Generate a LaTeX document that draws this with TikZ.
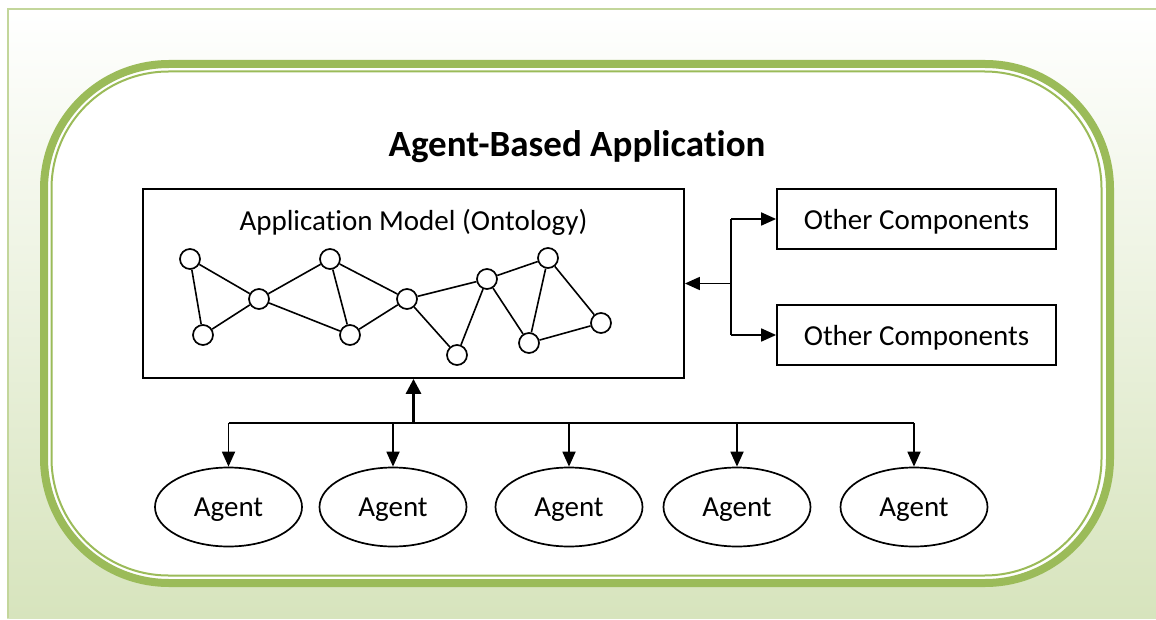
\documentclass[tikz,border=0pt]{standalone}
\usepackage{fontspec}
\setmainfont{Carlito}[Ligatures=NoCommon]
\usetikzlibrary{arrows.meta,shapes.geometric}
\definecolor{frameborder}{HTML}{C3D69B}
\definecolor{framebot}{HTML}{D7E4BD}
\definecolor{ringgreen}{HTML}{9BBB59}
\begin{document}
\begin{tikzpicture}[x=1pt,y=-1pt,
  txt/.style={font=\fontsize{29}{34}\selectfont},
  box/.style={draw, line width=1.8pt, fill=white, minimum width=279pt, minimum height=60pt, inner sep=0pt, text depth=0pt, txt},
  onode/.style={circle, draw, line width=1.7pt, fill=white, minimum size=20pt, inner sep=0pt},
  oedge/.style={line width=1.6pt},
  agent/.style={ellipse, draw, line width=1.7pt, fill=white, minimum width=147pt, minimum height=79pt, inner sep=0pt, text depth=0pt, txt},
  conn/.style={line width=1.8pt},
  arr/.style={conn, -{Triangle[length=15pt,width=13pt]}},
  ]
\useasboundingbox (0,0) rectangle (1156,620);
% background frame
\fill[top color=white, bottom color=framebot] (7,9) rectangle (1156,618);
\draw[frameborder, line width=2pt] (7.5,618) -- (7.5,9.5) -- (1156,9.5);
% rounded ring
\draw[ringgreen, line width=8pt, fill=white, rounded corners=125pt] (44,64) rectangle (1110,583);
\draw[ringgreen, line width=2pt, rounded corners=117pt] (51.5,71.5) rectangle (1101.5,575.5);
% title
\node[anchor=base, inner sep=0pt, font=\fontsize{37}{43}\selectfont\bfseries] (title) at (577,157) {Agent-Based Application};
% model box
\node[draw, line width=1.8pt, fill=white, minimum width=541pt, minimum height=189pt, inner sep=0pt] (model) at (413.5,283.5) {};
\node[anchor=base, inner sep=0pt, txt] (modellabel) at (413.5,231) {Application Model (Ontology)};
% ontology graph
\node[onode] (n1) at (190,259) {};
\node[onode] (n2) at (203,335) {};
\node[onode] (n3) at (259,299) {};
\node[onode] (n4) at (330,259) {};
\node[onode] (n5) at (350,335) {};
\node[onode] (n6) at (407,299) {};
\node[onode] (n7) at (457,355) {};
\node[onode] (n8) at (487,279) {};
\node[onode] (n9) at (548,258) {};
\node[onode] (n10) at (529,343) {};
\node[onode] (n11) at (601,323) {};
\foreach \a/\b in {n1/n2,n1/n3,n2/n3,n3/n4,n3/n5,n4/n5,n4/n6,n5/n6,n6/n8,n6/n7,n7/n8,n8/n9,n8/n10,n9/n10,n9/n11,n10/n11}
  \draw[oedge] (\a) -- (\b);
% other components
\node[box] (oc1) at (916.5,219) {Other Components};
\node[box] (oc2) at (916.5,335) {Other Components};
\coordinate (junc) at (731,283.5);
\draw[arr] (junc) -- (model.east |- junc);
\draw[conn] (junc |- oc1) -- (junc |- oc2);
\draw[arr] (junc |- oc1) -- (oc1.west);
\draw[arr] (junc |- oc2) -- (oc2.west);
% agents
\node[agent] (a1) at (228.5,507) {Agent};
\node[agent] (a2) at (393,507) {Agent};
\node[agent] (a3) at (569,507) {Agent};
\node[agent] (a4) at (737,507) {Agent};
\node[agent] (a5) at (914,507) {Agent};
\coordinate (bus) at (413.5,423);
\draw[conn] (a1.north |- bus) -- (a5.north |- bus);
\draw[line width=3pt, -{Triangle[length=15pt,width=15pt]}] (bus) -- (model.south);
\foreach \a in {a1,a2,a3,a4,a5}
  \draw[arr] (\a.north |- bus) -- (\a.north);
\end{tikzpicture}
\end{document}
